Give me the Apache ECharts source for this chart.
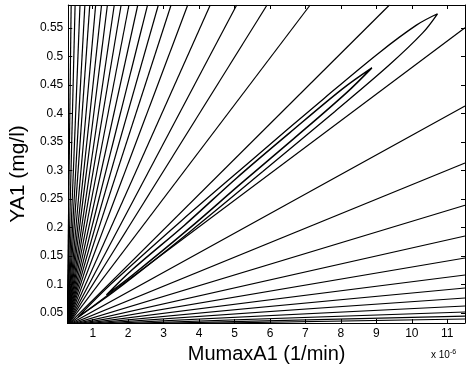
<!DOCTYPE html>
<html>
<head>
<meta charset="utf-8">
<script src="https://cdn.jsdelivr.net/npm/echarts@6/dist/echarts.min.js"></script>
<style>
  html, body { margin: 0; padding: 0; background: #fff; }
  #chart { width: 466px; height: 370px; }
</style>
</head>
<body>
<div id="chart"></div>
<script>
// axis ranges and ticks (x in units of 1e-6)
const xRange = [0.31, 11.5]
const yRange = [0.0325, 0.59]
const xTicks = [1, 2, 3, 4, 5, 6, 7, 8, 9, 10, 11]
const yTicks = [0.05, 0.1, 0.15, 0.2, 0.25, 0.3, 0.35, 0.4, 0.45, 0.5, 0.55]

// point near the lower-left corner where the contour fan meets
const fanOrigin = [0.28, 0.028]
// x where each steep contour leaves through the top edge
const topExits = [0.392, 0.503, 0.641, 0.779, 0.917, 1.083, 1.249, 1.414, 1.608, 1.801,
  2.022, 2.271, 2.547, 2.851, 3.21, 3.68, 4.315, 5.061, 5.917, 7.133, 9.37]
// y where each flat contour leaves through the right edge
const rightExits = [0.55, 0.413, 0.313, 0.239, 0.185, 0.1465, 0.1167, 0.0939, 0.0763,
  0.0623, 0.0518, 0.0447, 0.0395]

// closed contours along the valley
const outerLoop = [
  [0.586, 0.043], [1.53, 0.1016], [3.503, 0.2119], [5.514, 0.3196], [7.533, 0.4267],
  [9.064, 0.5056], [10.13, 0.5547], [10.724, 0.5746], [10.307, 0.5411], [9.345, 0.4839],
  [7.831, 0.4035], [5.796, 0.2979], [3.751, 0.193], [1.669, 0.0907], [0.586, 0.043]
]
const innerLoop = [
  [1.387, 0.0816], [2.105, 0.1254], [3.597, 0.2044], [5.061, 0.2868], [6.552, 0.3658],
  [8.044, 0.443], [8.873, 0.4798], [8.155, 0.436], [6.663, 0.3553], [5.171, 0.2763],
  [3.707, 0.1974], [2.16, 0.1184], [1.387, 0.0816]
]

const chart = echarts.init(document.getElementById('chart'), null, { renderer: 'canvas' })

const font = 'Liberation Sans, Arial, sans-serif'

function contour(data, smooth, width) {
  return {
    type: 'line',
    data: data,
    showSymbol: false,
    symbol: 'none',
    smooth: smooth,
    clip: true,
    silent: true,
    lineStyle: { color: '#000', width: width }
  }
}

const series = []
topExits.forEach(x => series.push(contour([fanOrigin, [x, yRange[1]]], false, 1.2)))
rightExits.forEach(y => series.push(contour([fanOrigin, [xRange[1], y]], false, 1.2)))
series.push(contour(outerLoop, 0.35, 1.3))
series.push(contour(innerLoop, 0.35, 1.5))

const axisBase = {
  type: 'value',
  axisLine: { show: true, onZero: false, lineStyle: { color: '#000', width: 1 } },
  splitLine: { show: false }
}

chart.setOption({
  animation: false,
  backgroundColor: '#fff',
  grid: { left: 60, right: 1, top: 5, bottom: 47 },
  xAxis: [
    Object.assign({}, axisBase, {
      min: xRange[0], max: xRange[1], position: 'bottom',
      name: 'MumaxA1 (1/min)', nameLocation: 'middle', nameGap: 21,
      nameTextStyle: { color: '#000', fontSize: 20, fontFamily: font },
      axisTick: { show: true, inside: true, length: 4, customValues: xTicks, lineStyle: { color: '#000' } },
      axisLabel: { customValues: xTicks, color: '#000', fontSize: 12, fontFamily: font, margin: 5 }
    }),
    Object.assign({}, axisBase, {
      min: xRange[0], max: xRange[1], position: 'top',
      axisTick: { show: true, inside: true, length: 4, customValues: xTicks, lineStyle: { color: '#000' } },
      axisLabel: { show: false }
    })
  ],
  yAxis: [
    Object.assign({}, axisBase, {
      min: yRange[0], max: yRange[1], position: 'left',
      name: 'YA1 (mg/l)', nameLocation: 'middle', nameGap: 32,
      nameTextStyle: { color: '#000', fontSize: 21, fontFamily: font, padding: [0, 20, 0, 0] },
      axisTick: { show: true, inside: true, length: 4, customValues: yTicks, lineStyle: { color: '#000' } },
      axisLabel: {
        customValues: yTicks, color: '#000', fontSize: 12, fontFamily: font, margin: 5,
        formatter: v => String(+v.toFixed(2))
      }
    }),
    Object.assign({}, axisBase, {
      min: yRange[0], max: yRange[1], position: 'right',
      axisTick: { show: true, inside: true, length: 4, customValues: yTicks, lineStyle: { color: '#000' } },
      axisLabel: { show: false }
    })
  ],
  graphic: [{
    type: 'text',
    left: 431,
    top: 349,
    style: {
      text: 'x 10{s|-6}',
      fill: '#000',
      font: '10px ' + font,
      rich: { s: { fontSize: 7, verticalAlign: 'top', padding: [0, 0, 6, 0] } }
    }
  }],
  series: series
})
</script>
</body>
</html>
